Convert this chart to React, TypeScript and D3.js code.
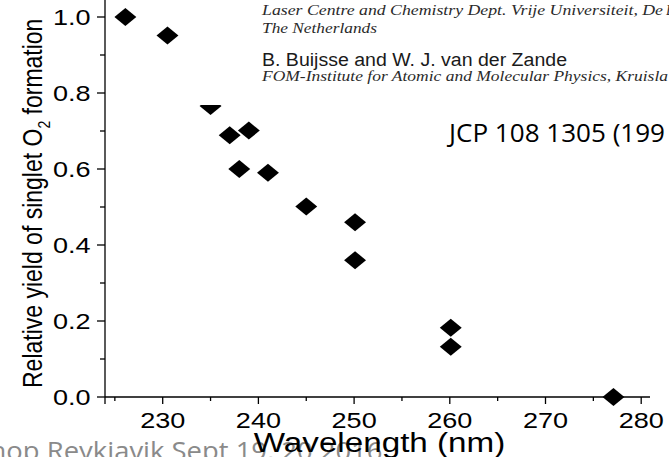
import React from "react";
import * as d3 from "d3";

const wavelength = [226.1, 230.5, 235.0, 237.0, 239.0, 238.0, 241.0, 245.0, 250.1, 250.1, 260.1, 260.1, 277.1];
const yieldVals = [1.0, 0.951, 0.766, 0.689, 0.701, 0.6, 0.59, 0.501, 0.46, 0.36, 0.182, 0.132, 0.0];
const xTicks = [230, 240, 250, 260, 270, 280];
const xMinor = [225, 235, 245, 255, 265, 275];
const yTicks = [0, 0.2, 0.4, 0.6, 0.8, 1.0];
const yMinor = [0.1, 0.3, 0.5, 0.7, 0.9];

const W = 669;
const H = 457;
const SX = 1.23;

export default function App() {
  const x = d3.scaleLinear().domain([230, 280]).range([162.7, 641.2]);
  const y = d3.scaleLinear().domain([0, 1]).range([397, 17]);
  const axX0 = 105;
  const axX1 = 650;
  const axY = y(0);
  const diamond = d3.symbol().type(d3.symbolSquare).size(162)()!;
  const font = "'Liberation Sans', Arial, sans-serif";

  return (
    <svg width={W} height={H} style={{ position: "absolute", left: 0, top: 0, background: "#fff" }}>
      {/* footer */}
      <text x={-10.5} y={460} fontFamily="'Open Sans', sans-serif" fontSize={26} fill="#8a8a8a" textLength={393} lengthAdjust="spacingAndGlyphs">
        hop Reykjavik Sept 19, 20 2016
      </text>

      {/* points */}
      {wavelength.map((w, i) => (
        <path key={i} d={diamond} fill="#000" transform={`translate(${x(w)},${y(yieldVals[i])}) scale(${SX * 0.99},1) rotate(45)`} />
      ))}

      {/* pasted header image region */}
      <rect x={185} y={0} width={W - 185} height={105} fill="#fff" />
      <text x={262} y={15} fontFamily="'Liberation Serif', serif" fontStyle="italic" fontSize={14} fill="#2a2a2a" textLength={401} lengthAdjust="spacingAndGlyphs">
        Laser Centre and Chemistry Dept. Vrije Universiteit, De
      </text>
      <text x={666} y={15} fontFamily="'Liberation Serif', serif" fontStyle="italic" fontSize={14} fill="#2a2a2a">B</text>
      <text x={262} y={33} fontFamily="'Liberation Serif', serif" fontStyle="italic" fontSize={14} fill="#2a2a2a" textLength={115} lengthAdjust="spacingAndGlyphs">
        The Netherlands
      </text>
      <text x={262} y={66} fontFamily={font} fontSize={18} fill="#1a1a1a" textLength={305} lengthAdjust="spacingAndGlyphs">
        B. Buijsse and W. J. van der Zande
      </text>
      <text x={262} y={81} fontFamily="'Liberation Serif', serif" fontStyle="italic" fontSize={14} fill="#2a2a2a" textLength={406} lengthAdjust="spacingAndGlyphs">
        FOM-Institute for Atomic and Molecular Physics, Kruisla
      </text>

      <text x={449} y={141.6} fontFamily="'Open Sans', sans-serif" fontSize={26} fill="#000" textLength={216} lengthAdjust="spacingAndGlyphs">
        JCP 108 1305 (199
      </text>
      <text x={671} y={141.6} fontFamily="'Open Sans', sans-serif" fontSize={26} fill="#000">8)</text>

      {/* axes */}
      <line x1={axX0} x2={axX0} y1={0} y2={404} stroke="#000" strokeWidth={1.3} />
      <line x1={axX0} x2={axX1} y1={axY} y2={axY} stroke="#000" strokeWidth={1.3} />
      {yTicks.map((t) => (
        <g key={"yt" + t}>
          <line x1={axX0 - 8} x2={axX0} y1={y(t)} y2={y(t)} stroke="#000" strokeWidth={1.3} />
          <text transform={`translate(90.5,${y(t) + 7.9}) scale(${SX},1)`} textAnchor="end" fontFamily={font} fontSize={22} fill="#000">
            {t.toFixed(1)}
          </text>
        </g>
      ))}
      {yMinor.map((t) => (
        <line key={"ym" + t} x1={axX0 - 5} x2={axX0} y1={y(t)} y2={y(t)} stroke="#000" strokeWidth={1.3} />
      ))}
      {xTicks.map((t) => (
        <g key={"xt" + t}>
          <line x1={x(t)} x2={x(t)} y1={axY} y2={axY + 7} stroke="#000" strokeWidth={1.3} />
          <text transform={`translate(${x(t)},428.3) scale(${SX},1)`} textAnchor="middle" fontFamily={font} fontSize={22} fill="#000">
            {t}
          </text>
        </g>
      ))}
      {xMinor.map((t) => (
        <line key={"xm" + t} x1={x(t)} x2={x(t)} y1={axY} y2={axY + 4} stroke="#000" strokeWidth={1.3} />
      ))}

      {/* axis titles */}
      <text transform={`translate(379.5,451.7) scale(${SX},1)`} textAnchor="middle" fontFamily={font} fontSize={27} fill="#000">
        Wavelength (nm)
      </text>
      <text transform={`translate(41.7,388) scale(1.2,1) rotate(-90)`} fontFamily={font} fontSize={23} fill="#000">
        Relative yield of singlet O
        <tspan fontSize={14} dy={7}>2</tspan>
        <tspan dy={-7}> formation</tspan>
      </text>
    </svg>
  );
}
